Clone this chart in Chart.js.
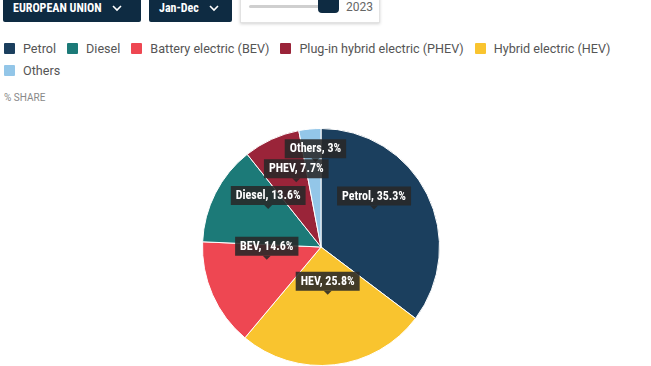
<!DOCTYPE html>
<html>
<head>
<meta charset="utf-8">
<script src="https://cdn.jsdelivr.net/npm/chart.js@4.4.1/dist/chart.umd.min.js"></script>
<style>
  html, body { margin:0; padding:0; background:#fff; }
  body { width:651px; height:366px; position:relative; overflow:hidden; font-family: Roboto, "Noto Sans", sans-serif; }
  .btn { position:absolute; top:-6px; height:28px; background:#0e2b42; color:#fff; font-weight:700; font-size:12px;
         box-sizing:border-box; padding:0 10px; display:flex; align-items:center; border-radius:2px; font-family:"Roboto Condensed","Liberation Sans Narrow",Roboto,sans-serif; }
  .btn svg { margin-left:10px; }
  .slider { position:absolute; left:240px; top:-6px; width:140px; height:29px; box-sizing:border-box; border:1px solid #e2e2e2;
            box-shadow:0 1px 3px rgba(0,0,0,0.18); background:#fff; }
  .track { position:absolute; left:8px; top:10px; width:74px; height:3px; background:#cfcfcf; border-radius:2px; }
  .handle { position:absolute; left:77px; top:-1px; width:21px; height:19px; background:#0e2b42; border-radius:0 0 4px 4px; }
  .year { position:absolute; left:105px; top:5px; font-size:12px; color:#666; }
  #legend { position:absolute; left:4px; top:38px; width:645px; font-size:12.6px; color:#555; line-height:21px; }
  .item { display:inline-flex; align-items:center; margin-right:11px; }
  .sw { width:11px; height:11px; border-radius:1px; margin-right:8px; display:inline-block; }
  .share { position:absolute; left:4px; top:92px; font-size:10px; color:#888; }
  #wrap { position:absolute; left:0; top:110px; width:651px; height:256px; }
</style>
</head>
<body>
<div class="btn" style="left:3px;width:138px;">EUROPEAN UNION
  <svg width="10" height="7" viewBox="0 0 10 7"><path d="M1 1 L5 5 L9 1" stroke="#fff" stroke-width="1.6" fill="none"/></svg></div>
<div class="btn" style="left:149px;width:83px;">Jan-Dec
  <svg width="10" height="7" viewBox="0 0 10 7"><path d="M1 1 L5 5 L9 1" stroke="#fff" stroke-width="1.6" fill="none"/></svg></div>
<div class="slider"><div class="track"></div><div class="handle"></div><div class="year">2023</div></div>
<div id="legend"></div>
<div class="share">% SHARE</div>
<div id="wrap"><canvas id="pie"></canvas></div>
<script>
// data in pie (drawing) order, clockwise from the top
const categories = ["Petrol", "Hybrid electric (HEV)", "Battery electric (BEV)", "Diesel", "Plug-in hybrid electric (PHEV)", "Others"];
const shortNames = ["Petrol", "HEV", "BEV", "Diesel", "PHEV", "Others"];
const shares = [35.3, 25.8, 14.6, 13.6, 7.7, 3];
const colors = ["#1b3f5e", "#f9c42f", "#ee4752", "#1c7a78", "#9a2439", "#93c6e8"];
// legend shows a different order
const legendOrder = ["Petrol", "Diesel", "Battery electric (BEV)", "Plug-in hybrid electric (PHEV)", "Hybrid electric (HEV)", "Others"];

const legendEl = document.getElementById("legend");
legendOrder.forEach(name => {
  const i = categories.indexOf(name);
  const span = document.createElement("span");
  span.className = "item";
  span.innerHTML = `<span class="sw" style="background:${colors[i]}"></span>${name}`;
  legendEl.appendChild(span);
});

// dark callout boxes on the slices
const sliceLabels = {
  id: "sliceLabels",
  afterDatasetsDraw(chart){
    const ctx = chart.ctx;
    const meta = chart.getDatasetMeta(0);
    ctx.save();
    ctx.font = "bold 12px 'Roboto Condensed','Liberation Sans Narrow','DejaVu Sans Condensed',sans-serif";
    ctx.textAlign = "center";
    ctx.textBaseline = "middle";
    const placed = [];
    meta.data.forEach((arc, i) => {
      const p = arc.tooltipPosition();
      const text = `${shortNames[i]}, ${shares[i]}%`;
      const w = ctx.measureText(text).width + 10, h = 19;
      let tipY = p.y - 11;
      let box = { x: p.x - w/2, y: tipY - 4 - h, w, h };
      placed.forEach(b => {
        if (box.x < b.x + b.w && box.x + box.w > b.x && box.y < b.y + b.h && box.y + box.h > b.y) {
          box.y = b.y - h - 1;
        }
      });
      placed.push(box);
      ctx.fillStyle = "rgba(40,40,40,0.88)";
      ctx.beginPath();
      ctx.rect(box.x, box.y, box.w, box.h);
      ctx.fill();
      ctx.beginPath();
      ctx.moveTo(p.x - 4, box.y + h);
      ctx.lineTo(p.x, box.y + h + 4);
      ctx.lineTo(p.x + 4, box.y + h);
      ctx.fill();
      ctx.fillStyle = "#fff";
      ctx.fillText(text, p.x, box.y + h/2 + 0.5);
    });
    ctx.restore();
  }
};

new Chart(document.getElementById("pie"), {
  type: "pie",
  data: {
    labels: categories,
    datasets: [{ data: shares, backgroundColor: colors, borderColor: "#fff", borderWidth: 1 }]
  },
  options: {
    responsive: true,
    maintainAspectRatio: false,
    animation: false,
    layout: { padding: { top: 18, bottom: 0, left: 0, right: 9 } },
    plugins: { legend: { display: false }, tooltip: { enabled: false } }
  },
  plugins: [sliceLabels]
});
</script>
</body>
</html>
